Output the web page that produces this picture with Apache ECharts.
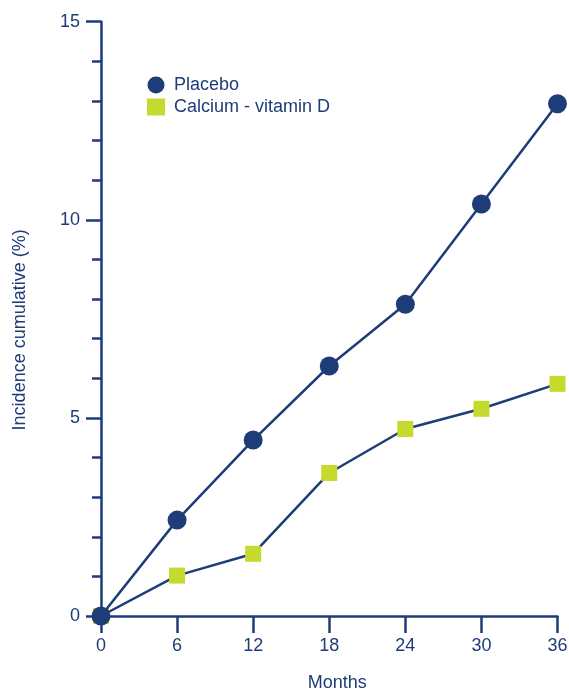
<!DOCTYPE html>
<html>
<head>
<meta charset="utf-8">
<script src="https://cdn.jsdelivr.net/npm/echarts@6/dist/echarts.min.js"></script>
<style>
  html, body { margin: 0; padding: 0; background: #fff; }
  #chart { width: 569px; height: 692px; }
</style>
</head>
<body>
<div id="chart"></div>
<script>
// values
var months = [0, 6, 12, 18, 24, 30, 36];
var placebo = [0, 2.42, 4.44, 6.31, 7.87, 10.40, 12.93];
var calciumVitD = [0, 1.02, 1.57, 3.61, 4.72, 5.23, 5.86];
var seriesNames = ['Placebo', 'Calcium - vitamin D'];

var navy = '#1d3c78';
var lime = '#c6da2e';
var font = 'Liberation Sans, Arial, Helvetica, sans-serif';

function pairs (ys) {
  return months.map(function (m, i) { return [m, ys[i]]; });
}

var myChart = echarts.init(document.getElementById('chart'));

myChart.setOption({
  animation: false,
  grid: { left: 101, right: 11.5, top: 21.7, bottom: 76, outerBoundsMode: 'none', containLabel: false },
  legend: {
    data: [
      { name: seriesNames[0], icon: 'circle' },
      { name: seriesNames[1], icon: 'rect' }
    ],
    orient: 'vertical',
    left: 142,
    top: 71,
    itemWidth: 18,
    itemHeight: 17,
    itemGap: 4,
    textStyle: { color: navy, fontSize: 18, fontFamily: font, padding: [0, 0, 0, 4] }
  },
  xAxis: {
    type: 'value',
    min: 0,
    max: 36,
    interval: 6,
    name: 'Months',
    nameLocation: 'middle',
    nameGap: 58,
    nameTextStyle: { color: navy, fontSize: 18, fontFamily: font, padding: [0, 0, 0, 16] },
    axisLine: { lineStyle: { color: navy, width: 2.5 } },
    axisTick: { show: true, length: 17, lineStyle: { color: navy, width: 2.5 } },
    axisLabel: { color: navy, fontSize: 18, fontFamily: font, margin: 21 },
    splitLine: { show: false }
  },
  yAxis: {
    type: 'value',
    min: 0,
    max: 15,
    interval: 5,
    name: 'Incidence cumulative (%)',
    nameLocation: 'middle',
    nameGap: 72,
    nameTextStyle: { color: navy, fontSize: 18, fontFamily: font, padding: [0, 22, 0, 0] },
    axisLine: { show: true, lineStyle: { color: navy, width: 2.5 } },
    axisTick: { show: true, length: 15, lineStyle: { color: navy, width: 2.5 } },
    minorTick: { show: true, splitNumber: 5, length: 9, lineStyle: { color: navy, width: 2.5 } },
    axisLabel: { color: navy, fontSize: 18, fontFamily: font, margin: 21 },
    splitLine: { show: false },
    minorSplitLine: { show: false }
  },
  series: [
    {
      name: seriesNames[1],
      type: 'line',
      data: pairs(calciumVitD),
      symbol: 'rect',
      symbolSize: 16,
      itemStyle: { color: lime },
      lineStyle: { color: navy, width: 2.5 },
      z: 2
    },
    {
      name: seriesNames[0],
      type: 'line',
      data: pairs(placebo),
      symbol: 'circle',
      symbolSize: 19,
      itemStyle: { color: navy },
      lineStyle: { color: navy, width: 2.5 },
      z: 3
    }
  ]
});
</script>
</body>
</html>
